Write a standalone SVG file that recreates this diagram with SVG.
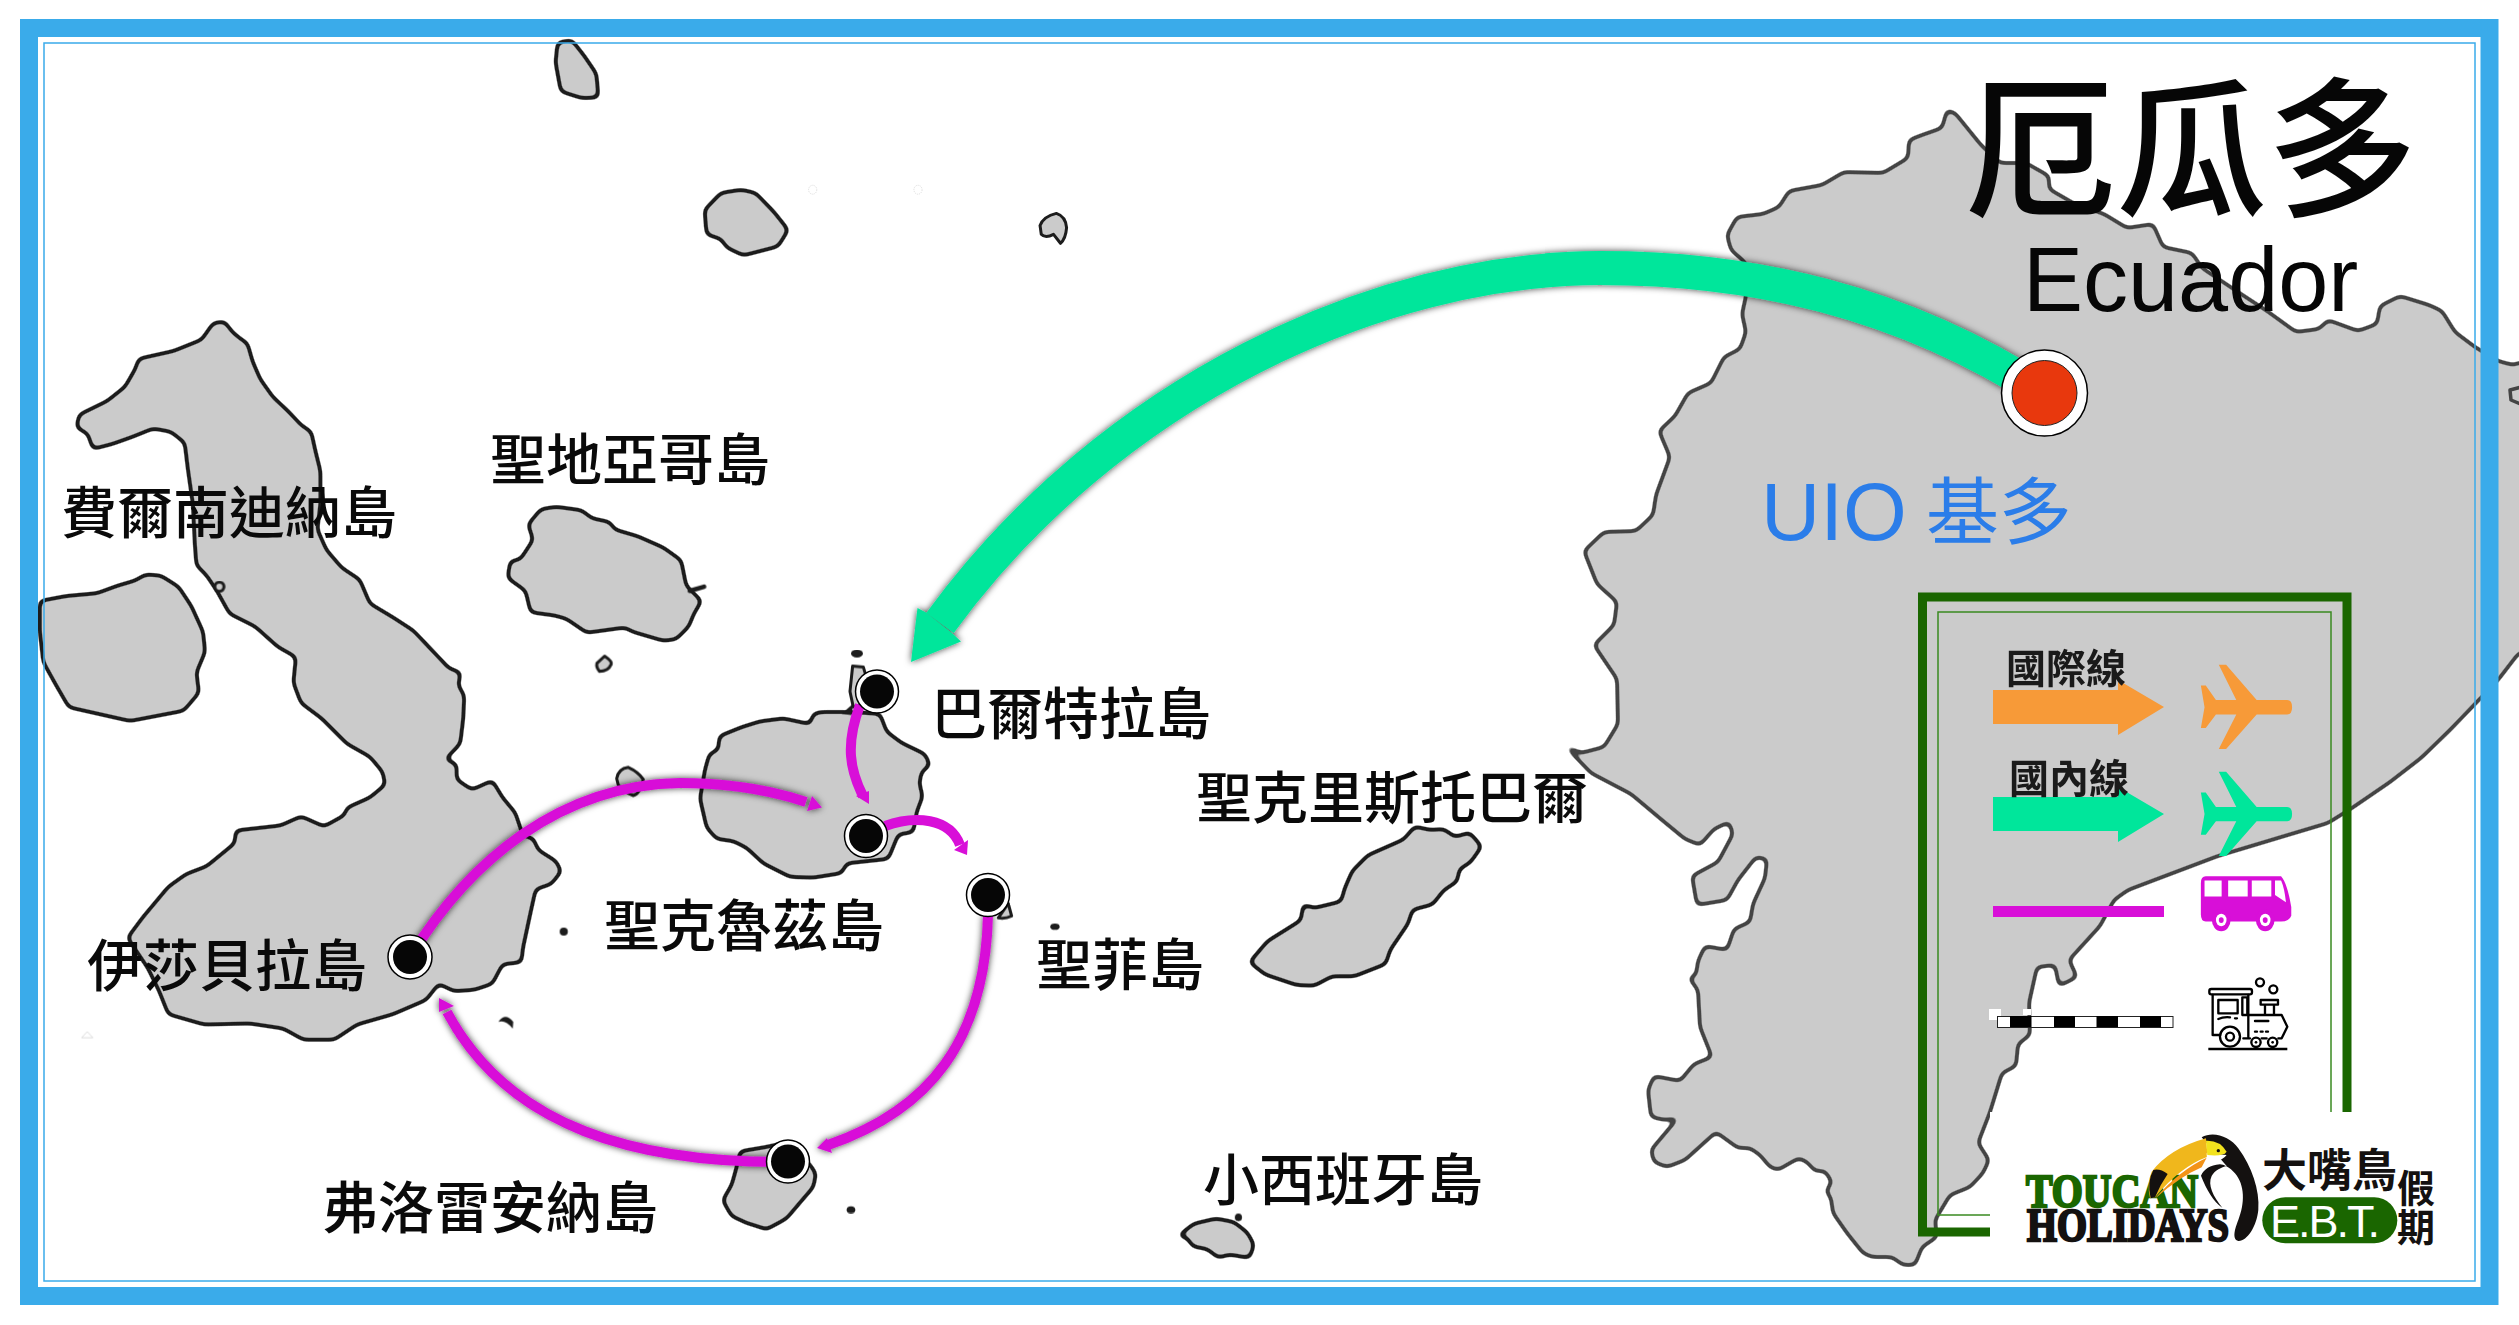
<svg xmlns="http://www.w3.org/2000/svg" width="2519" height="1325" viewBox="0 0 2519 1325">
<style>
.isl{fill:#000}
.islr{fill:#cbcbcb;stroke:#1c1c1c;stroke-width:3;stroke-linejoin:round;vector-effect:non-scaling-stroke}
.blob{fill:#1c1c1c}
.lab{font-family:"Noto Sans CJK TC","Noto Sans CJK SC",sans-serif;font-weight:500;font-size:56px;fill:#0a0a0a}
.leg{font-family:"Noto Sans CJK TC",sans-serif;font-weight:700;font-size:40px;fill:#1a1a1a}
.bus{fill:none;stroke:#d80fd8;stroke-width:10}
.busd{fill:#d80fd8}
.ring{fill:#fff;stroke:#000;stroke-width:1.5}
.dot{fill:#060606}
.tr{fill:none;stroke:#000;stroke-width:7;stroke-linejoin:round;stroke-linecap:round}
.hint{fill:none;stroke:#bbb;stroke-width:1}
</style>
<defs>
<filter id="sh" x="-10%" y="-10%" width="120%" height="120%"><feDropShadow dx="0" dy="0" stdDeviation="3.5" flood-color="#000" flood-opacity=".75"/></filter>
<filter id="coast" filterUnits="userSpaceOnUse" x="-20" y="-20" width="2570" height="1370" color-interpolation-filters="sRGB">
<feGaussianBlur in="SourceAlpha" stdDeviation="3" result="b"/>
<feComponentTransfer in="b" result="outer"><feFuncA type="linear" slope="8" intercept="-1.74"/></feComponentTransfer>
<feComponentTransfer in="b" result="inner"><feFuncA type="linear" slope="8" intercept="-5.26"/></feComponentTransfer>
<feFlood flood-color="#1c1c1c"/><feComposite in2="outer" operator="in" result="o"/>
<feFlood flood-color="#cbcbcb"/><feComposite in2="inner" operator="in" result="i"/>
<feMerge><feMergeNode in="o"/><feMergeNode in="i"/></feMerge>
</filter>
<filter id="coast2" filterUnits="userSpaceOnUse" x="-20" y="-20" width="2570" height="1370" color-interpolation-filters="sRGB">
<feGaussianBlur in="SourceAlpha" stdDeviation="3" result="b"/>
<feComponentTransfer in="b" result="outer"><feFuncA type="linear" slope="8" intercept="-1.74"/></feComponentTransfer>
<feComponentTransfer in="b" result="inner"><feFuncA type="linear" slope="8" intercept="-5.26"/></feComponentTransfer>
<feFlood flood-color="#444"/><feComposite in2="outer" operator="in" result="o"/>
<feFlood flood-color="#cbcbcb"/><feComposite in2="inner" operator="in" result="i"/>
<feMerge><feMergeNode in="o"/><feMergeNode in="i"/></feMerge>
</filter>
<path id="plane" d="M1000,270Q1012,270 1012,285Q1012,300 1000,300L925,300L850,372L832,372L875,300L825,300L800,328L788,328L797,285L788,240L800,240L825,270L875,270L832,197L850,197L925,270Z"/>
</defs>
<rect width="2519" height="1325" fill="#fff"/>
<g id="map">
<g filter="url(#coast2)">
<path id="mainland" d="M1947,110L1955,113L1981,145L2000,163L2026,163L2049,176L2049,189L2075,204L2104,214L2127,228L2153,224L2163,247L2192,253L2202,268L2235,290L2267,311L2296,332L2319,329L2328,320L2358,331L2377,324L2380,306L2400,296L2429,305L2442,311L2455,332L2475,347L2498,361L2513,365L2535,358L2535,646L2518,654L2498,680L2474,705L2450,730L2421,758L2390,782L2352,808L2328,823L2218,856L2128,890L2114,900L2100,926L2069,960L2077,977L2059,986L2055,965L2037,967L2029,1003L2030,1035L2018,1044L2016,1066L2002,1073L1990,1112L1978,1143L1989,1160L1983,1173L1970,1187L1950,1195L1935,1220L1937,1237L1922,1247L1915,1265L1903,1265L1892,1257L1872,1257L1863,1253L1847,1233L1833,1213L1831,1198L1826,1191L1832,1182L1825,1171L1815,1171L1807,1162L1799,1158L1790,1163L1778,1170L1770,1167L1760,1155L1750,1148L1738,1148L1716,1132L1685,1160L1667,1167L1654,1162L1651,1150L1678,1118L1665,1120L1651,1117L1648,1090L1654,1076L1680,1081L1694,1064L1712,1057L1700,1027L1698,990L1689,978L1696,975L1698,961L1705,946L1727,950L1734,929L1750,922L1753,904L1765,878L1767,859L1756,857L1738,880L1727,900L1697,905L1692,876L1718,862L1733,834L1729,822L1714,829L1700,845L1685,839L1662,820L1631,794L1591,773L1569,750L1566,746L1581,753L1604,747L1618,724L1617,679L1594,645L1614,625L1617,602L1597,584L1584,551L1604,532L1636,531L1653,515L1656,495L1670,457L1659,431L1675,416L1688,393L1711,383L1724,357L1740,349L1746,332L1742,314L1746,296L1746,263L1731,250L1727,235L1737,217L1763,214L1779,207L1789,191L1822,185L1844,172L1883,173L1908,158L1909,140L1922,135L1942,128Z" fill="#000"/>
</g>
<path d="M2525,386L2510,390L2511,400L2525,406" fill="none" stroke="#444" stroke-width="3.5" stroke-linejoin="round"/>
<g filter="url(#coast)">
<g transform="translate(0,300) scale(.5102)">
<path class="isl" d="M418,45L440,42L455,62L470,75L485,85L495,120L510,155L535,190L565,218L590,245L610,258L618,295L628,335L628,400L622,450L640,490L670,525L705,548L725,595L770,622L810,648L850,690L880,722L903,730L898,755L910,775L908,820L902,870L873,900L895,910L895,940L925,960L965,942L985,975L1010,1005L1025,1050L1045,1055L1055,1078L1090,1100L1100,1120L1080,1145L1050,1155L1040,1200L1025,1270L1022,1298L985,1302L965,1340L930,1352L890,1355L860,1340L835,1372L770,1400L700,1420L655,1450L595,1450L555,1428L490,1418L400,1420L330,1400L312,1355L290,1310L250,1250L280,1210L330,1150L365,1125L405,1110L460,1065L462,1040L550,1030L590,1012L635,1032L675,1010L680,995L725,975L755,950L750,925L725,895L680,870L630,820L590,790L575,750L580,700L545,680L500,640L450,615L425,570L405,540L385,520L382,480L378,400L368,330L362,280L335,258L300,252L260,268L220,282L182,292L172,262L150,250L155,225L210,198L245,170L265,135L272,115L340,100L395,78Z"/>
<path class="isl" d="M78,590L130,580L190,575L230,560L265,550L285,538L315,540L350,562L375,600L398,650L402,690L385,730L390,770L360,805L255,825L135,798L110,755L85,710L78,650Z"/>
<path class="isl" d="M1035,440L1060,410L1090,405L1140,412L1160,428L1195,435L1205,450L1250,463L1300,485L1335,510L1345,560L1375,590L1360,615L1350,640L1325,665L1300,668L1240,650L1225,642L1150,652L1110,625L1085,618L1040,612L1030,570L995,545L1000,512L1020,508L1045,470Z"/>
</g>
<g transform="translate(600,600) scale(.3333,.4464)">
<path class="isl" d="M358,305L425,285L480,272L550,265L630,278L640,255L665,250L740,250L840,255L860,295L905,320L975,345L990,370L965,385L958,410L968,440L950,475L940,520L895,525L865,580L740,590L725,612L640,622L570,620L490,590L440,555L400,540L350,535L320,510L300,445L315,380L328,345L355,335Z"/>
<path class="isl" d="M420,1235L500,1225L560,1215L630,1265L648,1285L640,1315L600,1350L560,1385L500,1410L440,1395L395,1380L368,1345L395,1310L410,1270Z"/>
</g>
<g transform="translate(1100,750) scale(.4464,.3509)">
<path class="isl" d="M335,605L375,545L450,485L455,440L480,450L540,432L548,395L565,345L600,300L680,255L705,218L740,228L770,225L795,248L828,235L855,275L830,320L805,340L800,375L770,400L745,440L700,455L690,495L650,570L640,610L570,645L520,645L480,672L440,670L370,640Z"/>
<path class="isl" d="M175,1385L210,1350L260,1335L300,1345L330,1375L345,1410L335,1448L290,1438L265,1447L240,1422L208,1415L195,1390Z"/>
</g>
<g transform="translate(480,0) scale(.4082,.4464)">
<path class="isl" d="M190,95L225,90L255,125L285,165L290,218L250,220L198,205L185,140Z"/>
<path class="isl" d="M550,470L590,432L640,425L675,432L720,475L755,515L730,552L645,572L605,555L590,535L555,525Z"/>
</g>
</g>
<g transform="translate(0,300) scale(.5102)">
<path d="M1352,570L1380,562" stroke="#1c1c1c" stroke-width="9" stroke-linecap="round"/>
<path class="islr" d="M1185,698Q1200,708 1198,714Q1192,728 1175,728Q1168,720 1170,712Z"/>
<circle class="islr" cx="430" cy="562" r="9"/>
<circle class="blob" cx="1105" cy="1238" r="8"/>
<path class="blob" d="M977,1415Q990,1395 1006,1415L1005,1428Q990,1410 977,1415Z"/>
<path class="hint" d="M160,1446L171,1434L182,1446Z" stroke-width="2"/>
</g>
<g transform="translate(600,600) scale(.3333,.4464)">
<path class="islr" d="M758,148L790,150L800,175L810,230L760,240L750,205Z"/>
<ellipse class="blob" cx="771" cy="120" rx="18" ry="9"/>
<path class="blob" d="M725,255L760,232L755,258Z"/>
<path class="islr" d="M1225,680L1235,708Q1215,715 1195,712Z"/>
<ellipse class="blob" cx="1365" cy="732" rx="14" ry="7"/>
<ellipse class="blob" cx="753" cy="1366" rx="13" ry="8"/>
<path class="islr" d="M50,400Q55,378 85,375Q115,385 130,402Q120,435 100,438Q70,430 55,415Z"/>
</g>
<g transform="translate(1100,750) scale(.4464,.3509)">
<ellipse class="blob" cx="310" cy="1332" rx="8" ry="11"/>
</g>
<g transform="translate(480,0) scale(.4082,.4464)">
<path class="islr" d="M1372,505Q1380,485 1412,478Q1435,485 1437,510Q1435,535 1422,545L1405,525Q1385,535 1375,525Z"/>
<circle class="hint" cx="815" cy="425" r="10" stroke-dasharray="3 2"/>
<circle class="hint" cx="1073" cy="425" r="10" stroke-dasharray="3 2"/>
</g>
</g>
<g id="frame">
<rect x="29" y="28" width="2460.500" height="1268" fill="none" stroke="#3aabea" stroke-width="18"/>
<rect x="44" y="43" width="2431" height="1238" fill="none" stroke="#3aabea" stroke-width="1.500"/>
</g>
<g id="legend">
<rect x="1922.500" y="597" width="424.500" height="635" fill="none" stroke="#1a6600" stroke-width="9"/>
<rect x="1938" y="612" width="393" height="603" fill="none" stroke="#3a8a20" stroke-width="1.500"/>
<path d="M1993,690H2118V680L2164,707L2118,735V724H1993Z" fill="#f79a38"/>
<path d="M1993,797H2118V787L2164,814L2118,842V831H1993Z" fill="#00e69b"/>
<rect x="1993" y="906" width="171" height="11" fill="#d80fd8"/>
<rect x="1989" y="1009" width="12" height="11" fill="#fff"/>
<rect x="2023" y="1009" width="8" height="6" fill="#fff"/>
<rect x="1997.500" y="1016.500" width="175.500" height="11" fill="#fff" stroke="#222" stroke-width="1"/>
<path d="M2010,1016h21.500v11h-21.500ZM2054,1016h21v11h-21ZM2096.500,1016h21.500v11h-21.500ZM2140,1016h21v11h-21Z" fill="#000"/>
<text class="leg" x="2006" y="683">國際線</text>
<text class="leg" x="2009" y="793">國內線</text>
<g transform="translate(1880,570) scale(.4072,.4815)">
<use href="#plane" fill="#f79a38"/>
<use href="#plane" y="222" fill="#00e69b"/>
<path d="M800,636H985Q1000,650 1010,700V718Q1005,730 985,730H800Q788,730 788,715V650Q788,636 800,636Z" fill="#d80fd8"/>
<path d="M797,645H839V678H797ZM855,645H903V678H855ZM913,645H961V678H913ZM970,645H985Q993,660 997,690L970,675Z" fill="#fff"/>
<circle cx="838" cy="727" r="23" fill="#d80fd8"/><circle cx="838" cy="727" r="13" fill="#fff"/><circle cx="838" cy="727" r="6" fill="#d80fd8"/>
<circle cx="946" cy="727" r="23" fill="#d80fd8"/><circle cx="946" cy="727" r="13" fill="#fff"/><circle cx="946" cy="727" r="6" fill="#d80fd8"/>
</g>
<g transform="translate(2130,940) scale(.3333)">
<rect class="tr" x="238" y="147" width="128" height="16" rx="6"/>
<path class="tr" d="M248,165V285H270M355,165V225M265,180H323V220H265ZM337,172H352V225H337ZM265,237Q280,230 300,232M315,235h6M355,225H455L472,260L455,295H445M410,295H395M360,295H340M355,225V290M392,180H444V194H392ZM405,195V225M432,195V225M375,243H415M375,275h6M392,275h6M408,275h6"/>
<circle class="tr" cx="300" cy="290" r="30" style="fill:#fff"/><circle class="tr" cx="300" cy="290" r="12"/>
<circle class="tr" cx="378" cy="307" r="14"/><circle cx="378" cy="307" r="4"/>
<circle class="tr" cx="428" cy="307" r="14"/><circle cx="428" cy="307" r="4"/>
<path d="M235,327H472" stroke="#000" stroke-width="8"/>
<circle class="tr" cx="390" cy="127" r="12"/><circle class="tr" cx="430" cy="148" r="12"/>
</g>
</g>
<g id="logo">
<rect x="1990" y="1112" width="484" height="168" fill="#fff"/>
<text x="2026" y="1207" font-family="Liberation Serif,serif" font-weight="700" font-size="47" fill="#1a6600" stroke="#1a6600" stroke-width="2.500" textLength="172" lengthAdjust="spacingAndGlyphs">TOUCAN</text>
<text x="2027" y="1241" font-family="Liberation Serif,serif" font-weight="700" font-size="46" fill="#141110" stroke="#141110" stroke-width="2.500" textLength="202" lengthAdjust="spacingAndGlyphs">HOLIDAYS</text>
<g transform="translate(2000,1110) scale(.3333)">
<path d="M605,82C640,62 690,80 715,115C755,170 780,240 775,300C770,350 740,395 715,393C695,388 705,355 715,330C735,280 735,225 705,190C690,172 670,163 660,163C630,165 612,178 603,197C620,240 640,275 667,293C640,260 622,225 635,198C645,180 665,172 680,168Z" fill="#141110"/>
<path d="M455,185Q510,115 618,85L623,140Q540,170 465,262L450,265Q440,220 455,185Z" fill="#f0b71c"/>
<path d="M465,265Q540,180 620,143L605,172Q540,200 470,262Z" fill="#f39318"/>
<path d="M460,180Q480,175 503,192Q480,225 465,262L452,265Q440,215 460,180Z" fill="#141110"/>
<path d="M620,130L680,135Q670,150 640,155L622,168Z" fill="#fff"/>
<path d="M618,92Q660,90 680,125Q670,140 622,135Z" fill="#f2e21e"/>
<circle cx="655" cy="122" r="5" fill="#141110"/>
</g>
<text x="2262" y="1187" font-family="Noto Sans CJK TC,sans-serif" font-weight="700" font-size="45" fill="#141110">大嘴鳥</text>
<text x="2397" y="1202" font-family="Noto Sans CJK TC,sans-serif" font-weight="700" font-size="38" fill="#141110">假</text>
<text x="2397" y="1241" font-family="Noto Sans CJK TC,sans-serif" font-weight="700" font-size="38" fill="#141110">期</text>
<rect x="2262.300" y="1197.300" width="135" height="46" rx="23" fill="#1a6600"/>
<text x="2270" y="1237" font-family="Liberation Sans,sans-serif" font-size="45" fill="#fff" textLength="110" lengthAdjust="spacing">E.B.T.</text>
</g>
<g id="connectors">
<g filter="url(#sh)">
<path d="M2044,393C1900,300 1750,268 1600,268C1380,268 1110,390 940,623" fill="none" stroke="#00e69b" stroke-width="34"/>
<path d="M917.500,608L926,612.500L953,634L961,641.500L911,662Z" fill="#00e69b"/>
</g>
<g filter="url(#sh)">
<path class="bus" d="M410,957C470,860 560,785 680,783C730,783 770,790 806,802"/>
<path class="busd" d="M812,796L822,807.600L807,811Z"/>
</g>
<g filter="url(#sh)">
<path class="bus" d="M988,915C985,1040 930,1110 828,1145"/>
<path class="busd" d="M827,1138L817,1148L832,1153Z"/>
<path class="bus" d="M780,1162C640,1162 510,1130 447,1012"/>
<path class="busd" d="M439,998L439,1012L454,1006Z"/>
</g>
<path class="bus" d="M860,705C845,745 850,770 863,796" stroke-width="9"/>
<path class="busd" d="M869,791L869,804L856,796Z"/>
<path class="bus" d="M885,826C915,815 950,818 960,845" stroke-width="9"/>
<path class="busd" d="M968,840L967,855L954,850Z"/>
</g>
<g id="node-uio">
<circle class="ring" cx="2044.500" cy="393" r="43"/>
<circle cx="2044.500" cy="393" r="32.500" fill="#e8380d" stroke="#222" stroke-width="1"/>
<text x="1761" y="540" font-family="Liberation Sans,sans-serif" font-size="82" fill="#2b7de9">UIO</text>
<text x="1926" y="538" font-family="Noto Sans CJK TC,sans-serif" font-size="73" fill="#2b7de9">基多</text>
</g>
<g id="node-baltra"><circle class="ring" cx="877" cy="691.500" r="21.500"/><circle class="dot" cx="877" cy="691.500" r="17"/><text class="lab" x="931" y="734">巴爾特拉島</text></g>
<g id="node-santacruz"><circle class="ring" cx="866" cy="836" r="21.500"/><circle class="dot" cx="866" cy="836" r="17"/><text class="lab" x="604" y="946">聖克魯茲島</text></g>
<g id="node-santafe"><circle class="ring" cx="988" cy="895" r="21.500"/><circle class="dot" cx="988" cy="895" r="17"/><text class="lab" x="1036" y="985">聖菲島</text></g>
<g id="node-floreana"><circle class="ring" cx="788" cy="1161.500" r="21.500"/><circle class="dot" cx="788" cy="1161.500" r="17"/><text class="lab" x="322" y="1228">弗洛雷安納島</text></g>
<g id="node-isabela"><circle class="ring" cx="410" cy="957" r="22"/><circle class="dot" cx="410" cy="957" r="17"/><text class="lab" x="87" y="986">伊莎貝拉島</text></g>
<g id="labels">
<text class="lab" x="61" y="533">費爾南迪納島</text>
<text class="lab" x="490" y="480">聖地亞哥島</text>
<text class="lab" x="1196" y="818">聖克里斯托巴爾</text>
<text class="lab" x="1203" y="1200">小西班牙島</text>
<text x="1965" y="205" font-family="Noto Sans CJK TC,sans-serif" font-weight="500" font-size="151" fill="#060606">厄瓜多</text>
<text x="2023" y="311" font-family="Liberation Sans,sans-serif" font-size="90" fill="#060606">Ecuador</text>
</g>
</svg>
